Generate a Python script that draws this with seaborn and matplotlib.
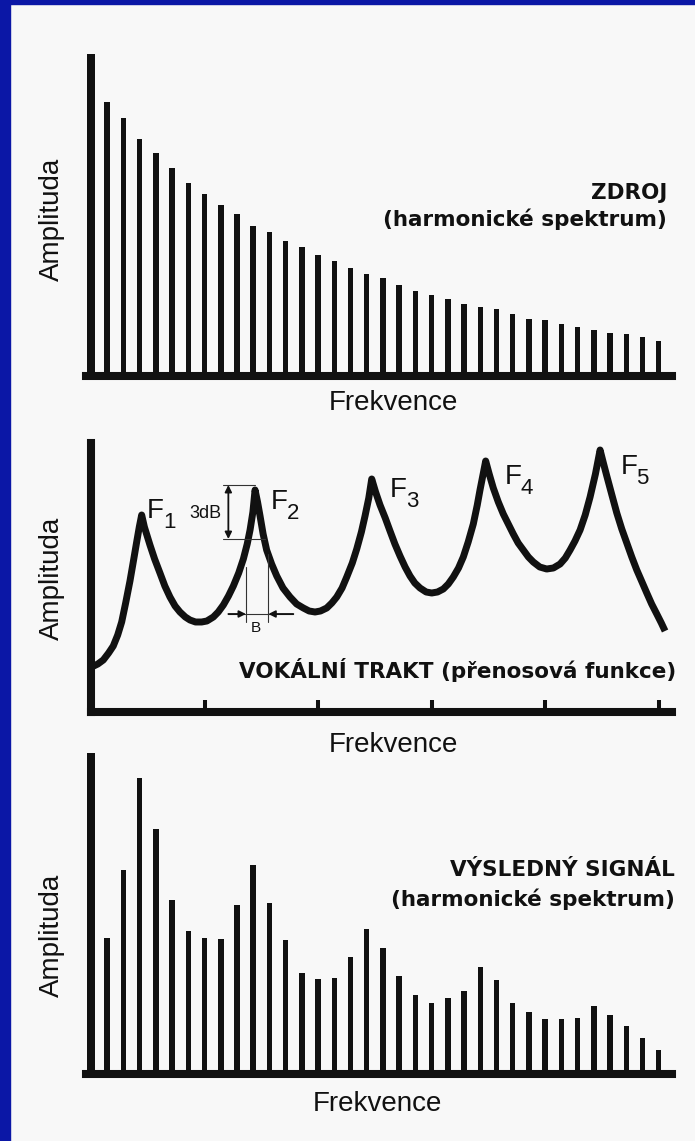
import numpy as np
import pandas as pd
import matplotlib
matplotlib.use("Agg")
import matplotlib.pyplot as plt
from matplotlib.patches import Rectangle
import seaborn as sns

# ================= data =================
harmonics = list(range(1, 37))
# zdroj (source spectrum), bar heights
source_amp = [318, 270, 254, 233, 219, 204, 189, 178, 167, 158, 146, 140,
              131, 125, 117, 111, 104, 98, 94, 87, 81, 77, 73, 68,
              65, 63, 58, 53, 52, 48, 45, 42, 39, 38, 35, 31]
# vysledny signal (output spectrum)
output_amp = [317, 132, 200, 292, 241, 170, 139, 132, 131, 165, 205, 167,
              130, 97, 91, 92, 113, 141, 122, 94, 75, 67, 72, 79,
              103, 90, 67, 58, 51, 51, 52, 64, 55, 44, 32, 20]
# vokalni trakt (transfer function)
tract_freq = [0.006, 0.060, 0.108, 0.155, 0.196, 0.235, 0.270, 0.305, 0.343, 0.375,
              0.402, 0.425, 0.446,
              0.470, 0.519, 0.560, 0.607, 0.650, 0.695, 0.740, 0.783, 0.830, 0.871,
              0.920, 0.974, 1.020, 1.077, 1.120, 1.165, 1.210, 1.253, 1.300, 1.341,
              1.375, 1.400, 1.425, 1.444,
              1.466, 1.488, 1.515, 1.546, 1.590, 1.635, 1.690, 1.752, 1.810, 1.869,
              1.920, 1.972, 2.020, 2.075, 2.120, 2.163, 2.210, 2.251, 2.300, 2.339,
              2.380, 2.412, 2.445, 2.471,
              2.505, 2.544, 2.590, 2.632, 2.675, 2.720, 2.765, 2.808, 2.850, 2.896,
              2.950, 2.999, 3.050, 3.101, 3.145, 3.189, 3.235, 3.277, 3.320, 3.365,
              3.400, 3.424, 3.450, 3.474,
              3.505, 3.541, 3.585, 3.629, 3.673, 3.717, 3.760, 3.805, 3.850, 3.893,
              3.950, 4.011, 4.070, 4.129, 4.175, 4.217, 4.260, 4.305, 4.350, 4.393,
              4.440, 4.481,
              4.510, 4.540, 4.585, 4.628, 4.672, 4.716, 4.760, 4.804, 4.850, 4.892,
              4.935, 4.980, 5.020, 5.053]
tract_amp = [45, 48, 52, 59, 66, 77, 90, 109, 131, 152,
             170, 185, 197,
             185, 167, 153, 139, 126, 115, 106, 100, 95, 92,
             90, 90, 91, 95, 100, 107, 116, 126, 139, 153,
             168, 182, 200, 222,
             210, 196, 178, 162, 148, 136, 124, 115, 108, 104,
             101, 100, 101, 104, 109, 115, 124, 135, 149, 163,
             180, 196, 214, 233,
             220, 207, 194, 181, 168, 156, 145, 136, 129, 124,
             120, 119, 120, 123, 128, 135, 144, 155, 170, 188,
             207, 222, 237, 251,
             238, 224, 210, 198, 188, 178, 169, 162, 155, 150,
             145, 143, 144, 148, 154, 162, 171, 182, 197, 215,
             238, 262,
             249, 236, 217, 199, 183, 169, 155, 142, 130, 119,
             108, 98, 89, 81]
formant_labels = ["1", "2", "3", "4", "5"]
formant_label_pos = [(0.493, 194), (1.585, 203), (2.63, 215), (3.64, 228), (4.66, 238)]
freq_ticks = [1, 2, 3, 4, 5]
# 3 dB / bandwidth guides around F2
db_top, db_low = 227, 173
bw_left, bw_right = 1.364, 1.561
# ==========================================

W, H = 695, 1141
sns.set_theme(style="white")
plt.rcParams["font.family"] = ["Liberation Sans", "DejaVu Sans"]
INK = "#111111"
PAGE = "#f8f8f8"

fig = plt.figure(figsize=(W / 100, H / 100), dpi=100, facecolor=PAGE)
fig.patches.append(Rectangle((0, 0), 10 / W, 1, transform=fig.transFigure, color="#0b17a6", zorder=10))
fig.patches.append(Rectangle((0, 1 - 4 / H), 1, 4 / H, transform=fig.transFigure, color="#0b17a6", zorder=10))


def ax_at(x0, y0, x1, y1):
    a = fig.add_axes([x0 / W, 1 - y1 / H, (x1 - x0) / W, (y1 - y0) / H])
    a.set_facecolor("none")
    return a


def ftext(x, y, s, **kw):
    fig.text(x / W, 1 - y / H, s, color=INK, **kw)


def spectrum(ax, values):
    df = pd.DataFrame({"h": harmonics, "a": values})
    sns.barplot(data=df, x="h", y="a", color=INK, width=0.34, linewidth=0,
                saturation=1, ax=ax)
    p = ax.patches[0]
    p.set_x(p.get_x() - 0.08)
    p.set_width(0.5)
    ax.set_xlim(-0.308, 35.82)
    for s in ["left", "top", "right"]:
        ax.spines[s].set_visible(False)
    ax.spines["bottom"].set_linewidth(5.8)
    ax.spines["bottom"].set_color(INK)
    ax.set_xticks([])
    ax.set_yticks([])
    ax.set_xlabel("")
    ax.set_ylabel("")


# ---- top: source ----
ax1 = ax_at(86, 40, 672, 376)
spectrum(ax1, source_amp)
ax1.set_ylim(-4, 332)

# ---- bottom: output ----
ax3 = ax_at(86, 740, 672, 1074)
spectrum(ax3, output_amp)
ax3.set_ylim(-4, 330)

# ---- middle: vocal tract ----
ax2 = ax_at(91, 443, 672, 712)
sns.lineplot(x=tract_freq, y=tract_amp, sort=False, estimator=None, color=INK,
             lw=5, ax=ax2)
ln = ax2.lines[0]
ln.set_solid_joinstyle("round")
ln.set_solid_capstyle("butt")
ln.set_clip_on(False)
ax2.set_xlim(0, 5.114)
ax2.set_ylim(0, 269)
for s in ["top", "right"]:
    ax2.spines[s].set_visible(False)
for s in ["left", "bottom"]:
    ax2.spines[s].set_linewidth(5.8)
    ax2.spines[s].set_color(INK)
ax2.spines["left"].set_capstyle("projecting")
ax2.set_xticks(freq_ticks)
ax2.set_yticks([])
ax2.tick_params(axis="x", direction="in", length=8.6, width=2.9, color=INK,
                labelbottom=False, bottom=True)

guide = dict(color="#333333", lw=0.8)
f2_peak = tract_freq[int(np.argmax(tract_amp[:45]))]
ax2.plot([1.165, f2_peak], [db_top, db_top], **guide)
ax2.plot([1.165, 1.532], [db_low, db_low], **guide)
ax2.annotate("", xy=(1.209, db_low), xytext=(1.209, db_top),
             arrowprops=dict(arrowstyle="<|-|>", color=INK, lw=1.3, mutation_scale=10,
                             shrinkA=0, shrinkB=0))
ax2.plot([bw_left, bw_left], [90, 145], **guide)
ax2.plot([bw_right, bw_right], [90, 158], **guide)
ax2.plot([1.209, 1.781], [98, 98], **guide)
ax2.annotate("", xy=(bw_left, 98), xytext=(1.209, 98),
             arrowprops=dict(arrowstyle="-|>", color=INK, lw=1.3, mutation_scale=10,
                             shrinkA=0, shrinkB=0))
ax2.annotate("", xy=(bw_right, 98), xytext=(1.781, 98),
             arrowprops=dict(arrowstyle="-|>", color=INK, lw=1.3, mutation_scale=10,
                             shrinkA=0, shrinkB=0))
ax2.text(1.150, 199, "3dB", ha="right", va="center", fontsize=13, color=INK)
ax2.text(1.452, 84, "B", ha="center", va="center", fontsize=11, color=INK)

narrow = ["Liberation Sans Narrow", "Liberation Sans", "DejaVu Sans"]
for lab, (fx, fy) in zip(formant_labels, formant_label_pos):
    ax2.text(fx, fy, "F", ha="left", va="baseline", fontsize=20, color=INK,
             family=narrow, clip_on=False)
    ax2.text(fx + 0.14, fy - 10, lab, ha="left", va="baseline", fontsize=16,
             color=INK, family=narrow, clip_on=False)

# ---- labels ----
bold = dict(fontsize=15.5, fontweight="bold", family=["DejaVu Sans"], ha="right", va="center")
ftext(667, 193, "ZDROJ", **bold)
ftext(667, 219, "(harmonické spektrum)", **bold)
ftext(676, 670, "VOKÁLNÍ TRAKT (přenosová funkce)", **bold)
ftext(675, 870, "VÝSLEDNÝ SIGNÁL", **bold)
ftext(675, 899, "(harmonické spektrum)", **bold)

for yc in [219, 578, 935]:
    ftext(52, yc, "Amplituda", fontsize=20, rotation=90, ha="center", va="center")
for xc, yc in [(393, 403), (393, 745), (377, 1104)]:
    ftext(xc, yc, "Frekvence", fontsize=20, ha="center", va="center")

fig.savefig("out.png", dpi=100, facecolor=PAGE)
